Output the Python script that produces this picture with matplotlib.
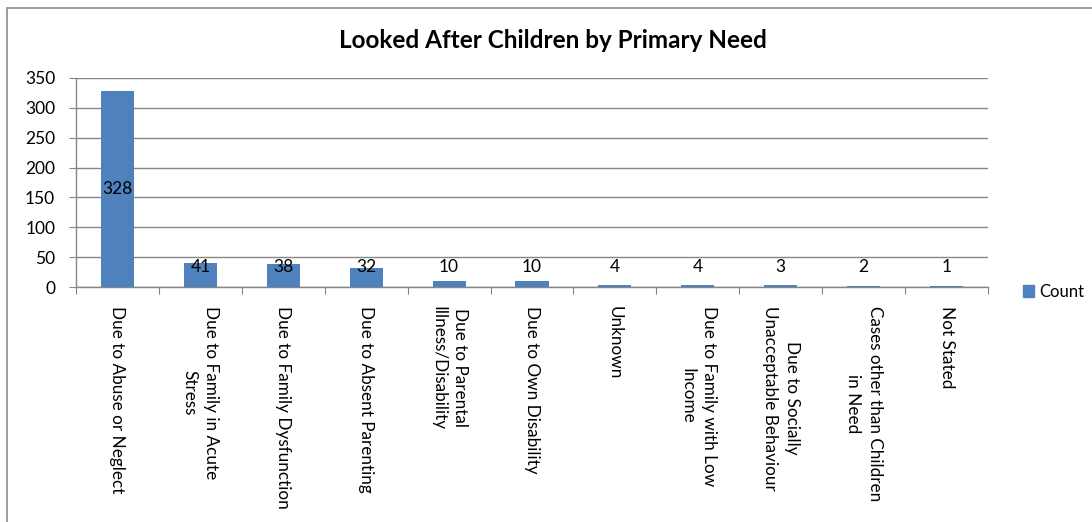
import matplotlib.pyplot as plt
from matplotlib.patches import Rectangle, Patch
import numpy as np

# 数据
categories = [
    "Due to Abuse or Neglect",
    "Due to Family in Acute\nStress",
    "Due to Family Dysfunction",
    "Due to Absent Parenting",
    "Due to Parental\nIllness/Disability",
    "Due to Own Disability",
    "Unknown",
    "Due to Family with Low\nIncome",
    "Due to Socially\nUnacceptable Behaviour",
    "Cases other than Children\nin Need",
    "Not Stated",
]
counts = [328, 41, 38, 32, 10, 10, 4, 4, 3, 2, 1]
series_name = "Count"
title = "Looked After Children by Primary Need"

bar_color = "#4F81BD"
grid_color = "#868686"

plt.rcParams["font.family"] = ["Lato", "DejaVu Sans"]

fig = plt.figure(figsize=(10.92, 5.22), dpi=100)
ax = fig.add_axes([76 / 1092, 1 - 287 / 522, (988 - 76) / 1092, (287 - 78) / 522])

x = np.arange(len(categories))
ax.bar(x, counts, width=0.4, color=bar_color, zorder=3)

ax.set_xlim(-0.5, len(categories) - 0.5)
ax.set_ylim(0, 350)
ax.set_yticks(np.arange(0, 351, 50))
ax.yaxis.grid(True, color=grid_color, linewidth=1)
ax.set_axisbelow(True)

for side in ["top", "right"]:
    ax.spines[side].set_visible(False)
for side in ["left", "bottom"]:
    ax.spines[side].set_color(grid_color)
    ax.spines[side].set_linewidth(1)

# x轴刻度线画在类别之间
ax.set_xticks(np.arange(len(categories) + 1) - 0.5)
ax.set_xticklabels([])
ax.tick_params(axis="x", length=5, color=grid_color, direction="out")
ax.tick_params(axis="y", length=5, color=grid_color, labelsize=12.5, pad=10)

# 类别名称竖排
for i, name in enumerate(categories):
    ax.text(i, -0.09, name, rotation=270, ha="center", va="top",
            multialignment="center", fontsize=12.3, linespacing=1.45,
            transform=ax.get_xaxis_transform())

# 数据标签
for i, v in enumerate(counts):
    y = v / 2 if v / 2 > 33 else 33
    ax.text(i, y, str(v), ha="center", va="center", fontsize=12.5, zorder=4)

fig.text(553 / 1092, 1 - 40 / 522, title, ha="center", va="center",
         fontsize=17.5, fontweight="bold")

fig.legend(handles=[Patch(color=bar_color, label=series_name)],
           loc="center left", bbox_to_anchor=(1016 / 1092, 1 - 292 / 522),
           frameon=False, fontsize=12, handlelength=0.7, handleheight=0.7,
           handletextpad=0.3, borderaxespad=0)

# 外框（右、下边超出画布）
fig.patches.append(Rectangle((7 / 1092, -0.05), 1.1, 1.05 - 8 / 522,
                             transform=fig.transFigure, fill=False,
                             edgecolor="#8c8c8c", linewidth=1.2))

fig.savefig("out.png", dpi=100)
